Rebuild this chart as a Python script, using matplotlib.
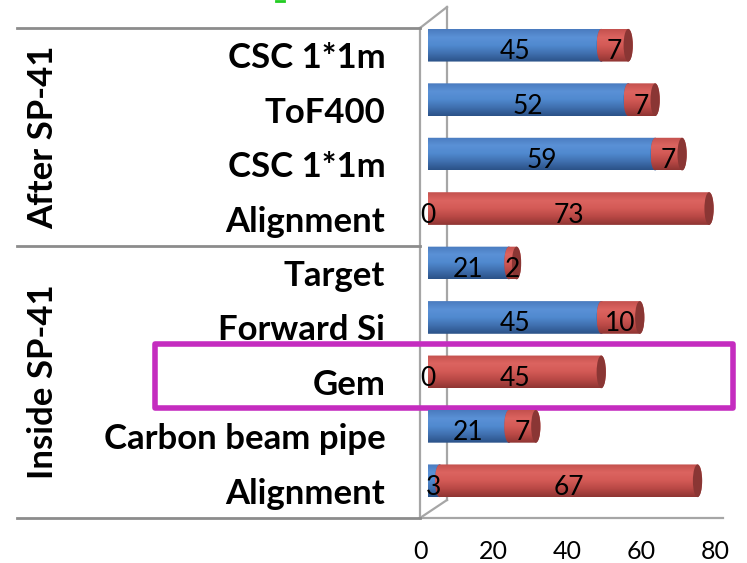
import numpy as np
import matplotlib
matplotlib.use("Agg")
import matplotlib.pyplot as plt
from matplotlib.path import Path
from matplotlib.patches import PathPatch, Ellipse, Rectangle
from matplotlib.colors import LinearSegmentedColormap
from matplotlib.lines import Line2D
from matplotlib.transforms import blended_transform_factory

# ---- data ----
categories = ["CSC 1*1m", "ToF400", "CSC 1*1m", "Alignment",
              "Target", "Forward Si", "Gem", "Carbon beam pipe", "Alignment"]
blue_values = [45, 52, 59, 0, 21, 45, 0, 21, 3]
red_values = [7, 7, 7, 73, 2, 10, 45, 7, 67]
groups = ["After SP-41", "Inside SP-41"]
group_sizes = [4, 5]
x_ticks = [0, 20, 40, 60, 80]
highlight_row = 6

FONT = "Lato"
W, H = 747, 563
fig = plt.figure(figsize=(W / 100, H / 100), dpi=100)


def fx(px):
    return px / W


def fy(py):
    return 1 - py / H


n = len(categories)
GRID = "#a6a6a6"

# front plane: category labels, floor and tick labels
axf = fig.add_axes([fx(420), fy(518), fx(715) - fx(420), fy(28) - fy(518)])
axf.set_xlim(0, 80)
axf.set_ylim(n - 0.5, -0.5)
axf.set_facecolor("none")
for s in ["top", "right", "bottom", "left"]:
    axf.spines[s].set_visible(False)
axf.set_xticks(x_ticks)
axf.set_xticklabels([str(t) for t in x_ticks], fontsize=18, family=FONT)
axf.tick_params(axis="x", length=0, pad=16)
axf.set_yticks(range(n))
axf.set_yticklabels(categories, fontsize=25, fontweight="bold", family=FONT)
axf.tick_params(axis="y", length=0, pad=25)

# 3D wall and floor outline
ax_frac = (723 - 420) / (715 - 420)
back = (447 - 420) / (715 - 420)
top_back = (518 - 7) / 490
bot_back = (518 - 500) / 490
wall = [
    ([0, 0], [0, 1]),
    ([0, ax_frac], [0, 0]),
    ([0, back], [1, top_back]),
    ([back, back], [top_back, bot_back]),
    ([0, back], [0, bot_back]),
]
for xs, ys in wall:
    axf.add_line(Line2D(xs, ys, transform=axf.transAxes, color=GRID,
                        lw=1.6, clip_on=False, zorder=1))

# table rules on the label side
left_frac = (17 - 420) / (715 - 420)
bounds = [-0.5]
for g in group_sizes:
    bounds.append(bounds[-1] + g)
tr = axf.get_yaxis_transform()
for b in bounds:
    axf.add_line(Line2D([left_frac, 0], [b, b], transform=tr, color="#8c8c8c",
                        lw=2, clip_on=False, zorder=1))

# group labels
gtr = blended_transform_factory(fig.transFigure, axf.transData)
for g, lo, hi in zip(groups, bounds[:-1], bounds[1:]):
    axf.text(fx(43), (lo + hi) / 2, g, transform=gtr,
             rotation=90, ha="center", va="center", fontsize=25,
             fontweight="bold", family=FONT)

# highlight box around one row
hl_left = (155 - 420) / (715 - 420)
hl_right = (733 - 420) / (715 - 420)
axf.add_patch(Rectangle((hl_left, highlight_row - 0.69), hl_right - hl_left, 1.17,
                        transform=tr, fill=False, edgecolor="#c42cbf", lw=4,
                        clip_on=False, zorder=6, joinstyle="round"))

# back plane with the cylinders
scale = 3.85
axb = fig.add_axes([fx(428), fy(508), fx(428 + 80 * scale) - fx(428), fy(18) - fy(508)])
axb.set_zorder(3)

blue_cmap = LinearSegmentedColormap.from_list(
    "b", ["#4a7bbf", "#5a91d6", "#5089cf", "#3f6fae", "#2b5288"])
red_cmap = LinearSegmentedColormap.from_list(
    "r", ["#c4514e", "#dc6460", "#d35a56", "#b84845", "#8f3533"])
blue_cap = "#3b63a0"
red_cap = "#8a3634"

rx = 1.2
bh = 0.6
grad = np.linspace(0, 1, 64).reshape(-1, 1)


def cylinder(ax, x0, x1, yc, cmap, cap, z):
    t1 = np.linspace(np.pi / 2, 3 * np.pi / 2, 40)
    t2 = np.linspace(3 * np.pi / 2, 5 * np.pi / 2, 40)
    xs = np.concatenate([x0 + rx * np.cos(t1), x1 + rx * np.cos(t2)])
    ys = np.concatenate([yc - bh / 2 * np.sin(t1), yc - bh / 2 * np.sin(t2)])
    verts = np.column_stack([xs, ys])
    patch = PathPatch(Path(np.vstack([verts, verts[:1]]), closed=True),
                      facecolor="none", edgecolor="none")
    ax.add_patch(patch)
    im = ax.imshow(grad, cmap=cmap, aspect="auto", origin="upper",
                   extent=(x0 - rx, x1 + rx, yc + bh / 2, yc - bh / 2),
                   interpolation="bilinear", zorder=z)
    im.set_clip_path(patch)
    ax.add_patch(Ellipse((x1, yc), 2 * rx, bh, facecolor=cap,
                         edgecolor="none", zorder=z + 0.1))


for i, (bv, rv) in enumerate(zip(blue_values, red_values)):
    if bv > 0:
        cylinder(axb, 0, bv, i, blue_cmap, blue_cap, 2)
    if rv > 0:
        cylinder(axb, bv, bv + rv, i, red_cmap, red_cap, 3)
    for start, v in ((0, bv), (bv, rv)):
        axb.text(start + v / 2, i + 0.12, str(v), ha="center", va="center",
                 fontsize=19, family=FONT, zorder=5)

axb.set_xlim(0, 80)
axb.set_ylim(n - 0.5, -0.5)
axb.axis("off")

# small green mark at the top edge
fig.add_artist(Line2D([fx(276), fx(284)], [fy(0.5), fy(0.5)], color="#22cc22", lw=2))

fig.savefig("out.png", dpi=100)
